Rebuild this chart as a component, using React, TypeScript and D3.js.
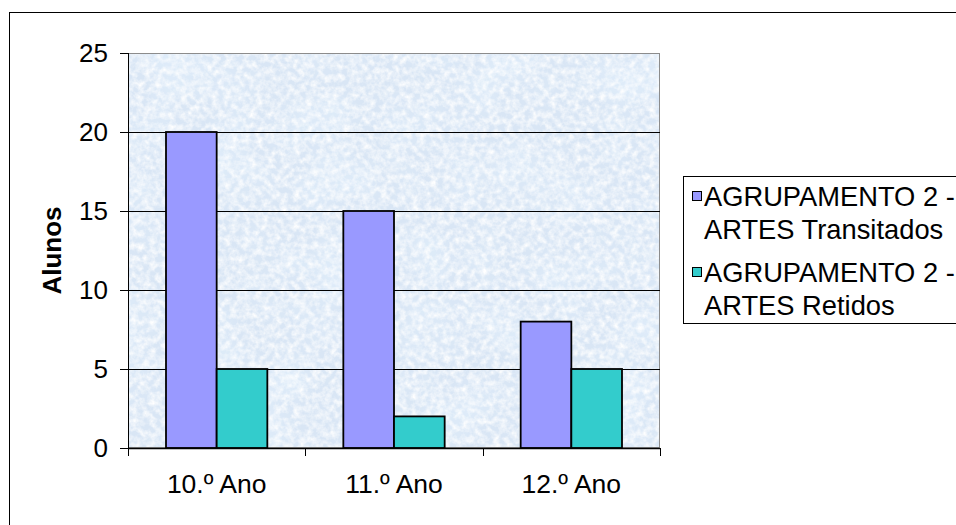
import React from "react";
import * as d3 from "d3";

const categories = ["10.º Ano", "11.º Ano", "12.º Ano"];
const seriesNames = ["AGRUPAMENTO 2 - ARTES Transitados", "AGRUPAMENTO 2 - ARTES Retidos"];
const legendLines = [
  ["AGRUPAMENTO 2 -", "ARTES Transitados"],
  ["AGRUPAMENTO 2 -", "ARTES Retidos"],
];
const transitados = [20, 15, 8];
const retidos = [5, 2, 5];
const yTicks = [0, 5, 10, 15, 20, 25];
const colors = ["#9999FF", "#33CCCC"];
const yTitle = "Alunos";

const W = 956;
const H = 525;
const plot = { left: 128, right: 660, top: 53, bottom: 448 };
const font = "'Liberation Sans', Arial, sans-serif";

export default function App() {
  const x = d3.scaleBand<string>().domain(categories).range([plot.left, plot.right]).paddingInner(0).paddingOuter(0);
  const xs = d3.scaleBand<string>().domain(seriesNames).range([0, x.step()]).paddingInner(0).paddingOuter(0.75);
  const y = d3.scaleLinear().domain([0, 25]).range([plot.bottom, plot.top]);
  const series = [transitados, retidos];
  const pw = plot.right - plot.left;
  const ph = plot.bottom - plot.top;
  const boundaries = categories.map((c) => x(c) as number).concat([plot.right]);

  return (
    <svg width={W} height={H} style={{ position: "absolute", left: 0, top: 0, background: "#fff" }} fontFamily={font}>
      <defs>
        <filter id="tex" x="0" y="0" width="100%" height="100%">
          <feTurbulence type="fractalNoise" baseFrequency="0.16" numOctaves="3" seed="7" result="n" />
          <feColorMatrix
            in="n"
            type="matrix"
            values="0 0 0 0 1  0 0 0 0 1  0 0 0 0 1  1.8 0 0 0 -0.6"
          />
        </filter>
        <filter id="tex2" x="0" y="0" width="100%" height="100%">
          <feTurbulence type="fractalNoise" baseFrequency="0.02" numOctaves="2" seed="3" result="n" />
          <feColorMatrix
            in="n"
            type="matrix"
            values="0 0 0 0 0.78  0 0 0 0 0.89  0 0 0 0 0.99  1.2 0 0 0 -0.5"
          />
        </filter>
      </defs>
      {/* outer chart border */}
      <rect x={9.5} y={12.5} width={W + 20} height={H + 20} fill="#fff" stroke="#000" strokeWidth={1} />
      {/* plot area background */}
      <rect x={plot.left} y={plot.top} width={pw} height={ph} fill="#d9e6f5" />
      <rect x={plot.left} y={plot.top} width={pw} height={ph} filter="url(#tex2)" />
      <rect x={plot.left} y={plot.top} width={pw} height={ph} filter="url(#tex)" />
      <rect x={plot.left + 0.5} y={plot.top + 0.5} width={pw - 1} height={ph - 1} fill="none" stroke="#8c8c8c" strokeWidth={1} />
      {/* gridlines */}
      {yTicks
        .filter((t) => t !== 0 && t !== 25)
        .map((t) => (
          <line key={"g" + t} x1={plot.left} x2={plot.right} y1={Math.round(y(t)) + 0.5} y2={Math.round(y(t)) + 0.5} stroke="#000" strokeWidth={1} />
        ))}
      {/* bars */}
      {series.map((vals, si) =>
        categories.map((c, ci) => {
          const bx = (x(c) as number) + (xs(seriesNames[si]) as number);
          const bw = xs.bandwidth();
          const by = y(vals[ci]);
          return (
            <rect
              key={si + "-" + ci}
              x={bx}
              y={by}
              width={bw}
              height={plot.bottom - by}
              fill={colors[si]}
              stroke="#000"
              strokeWidth={1.8}
            />
          );
        })
      )}
      {/* axes */}
      <line x1={plot.left + 0.5} x2={plot.left + 0.5} y1={plot.top} y2={plot.bottom} stroke="#000" strokeWidth={1} />
      <line x1={plot.left} x2={plot.right} y1={plot.bottom + 0.5} y2={plot.bottom + 0.5} stroke="#000" strokeWidth={1.5} />
      {yTicks.map((t) => (
        <g key={"yt" + t}>
          <line x1={plot.left - 8} x2={plot.left} y1={Math.round(y(t)) + 0.5} y2={Math.round(y(t)) + 0.5} stroke="#000" />
          <text x={108} y={y(t)} dy="0.36em" textAnchor="end" fontSize={26} fill="#000">
            {t}
          </text>
        </g>
      ))}
      {boundaries.map((bx, i) => (
        <line key={"xt" + i} x1={Math.round(bx) + 0.5} x2={Math.round(bx) + 0.5} y1={plot.bottom} y2={plot.bottom + 8} stroke="#000" />
      ))}
      {categories.map((c) => (
        <text key={"xl" + c} x={(x(c) as number) + x.bandwidth() / 2} y={493} textAnchor="middle" fontSize={26.5} fill="#000">
          {c}
        </text>
      ))}
      <text
        transform={`translate(61,${(plot.top + plot.bottom) / 2}) rotate(-90)`}
        textAnchor="middle"
        fontSize={26}
        fontWeight="bold"
        fill="#000"
      >
        {yTitle}
      </text>
      {/* legend */}
      <rect x={683.5} y={176.5} width={300} height={147} fill="#fff" stroke="#000" strokeWidth={1} />
      {legendLines.map((lines, i) => {
        const base = 206 + i * 76;
        return (
          <g key={"lg" + i}>
            <rect x={692.5} y={base - 14.5} width={9} height={9} fill={colors[i]} stroke="#000" strokeWidth={1} />
            <text x={704} y={base} fontSize={27.3} fill="#000">
              {lines[0]}
            </text>
            <text x={704} y={base + 33} fontSize={27.3} fill="#000">
              {lines[1]}
            </text>
          </g>
        );
      })}
    </svg>
  );
}
